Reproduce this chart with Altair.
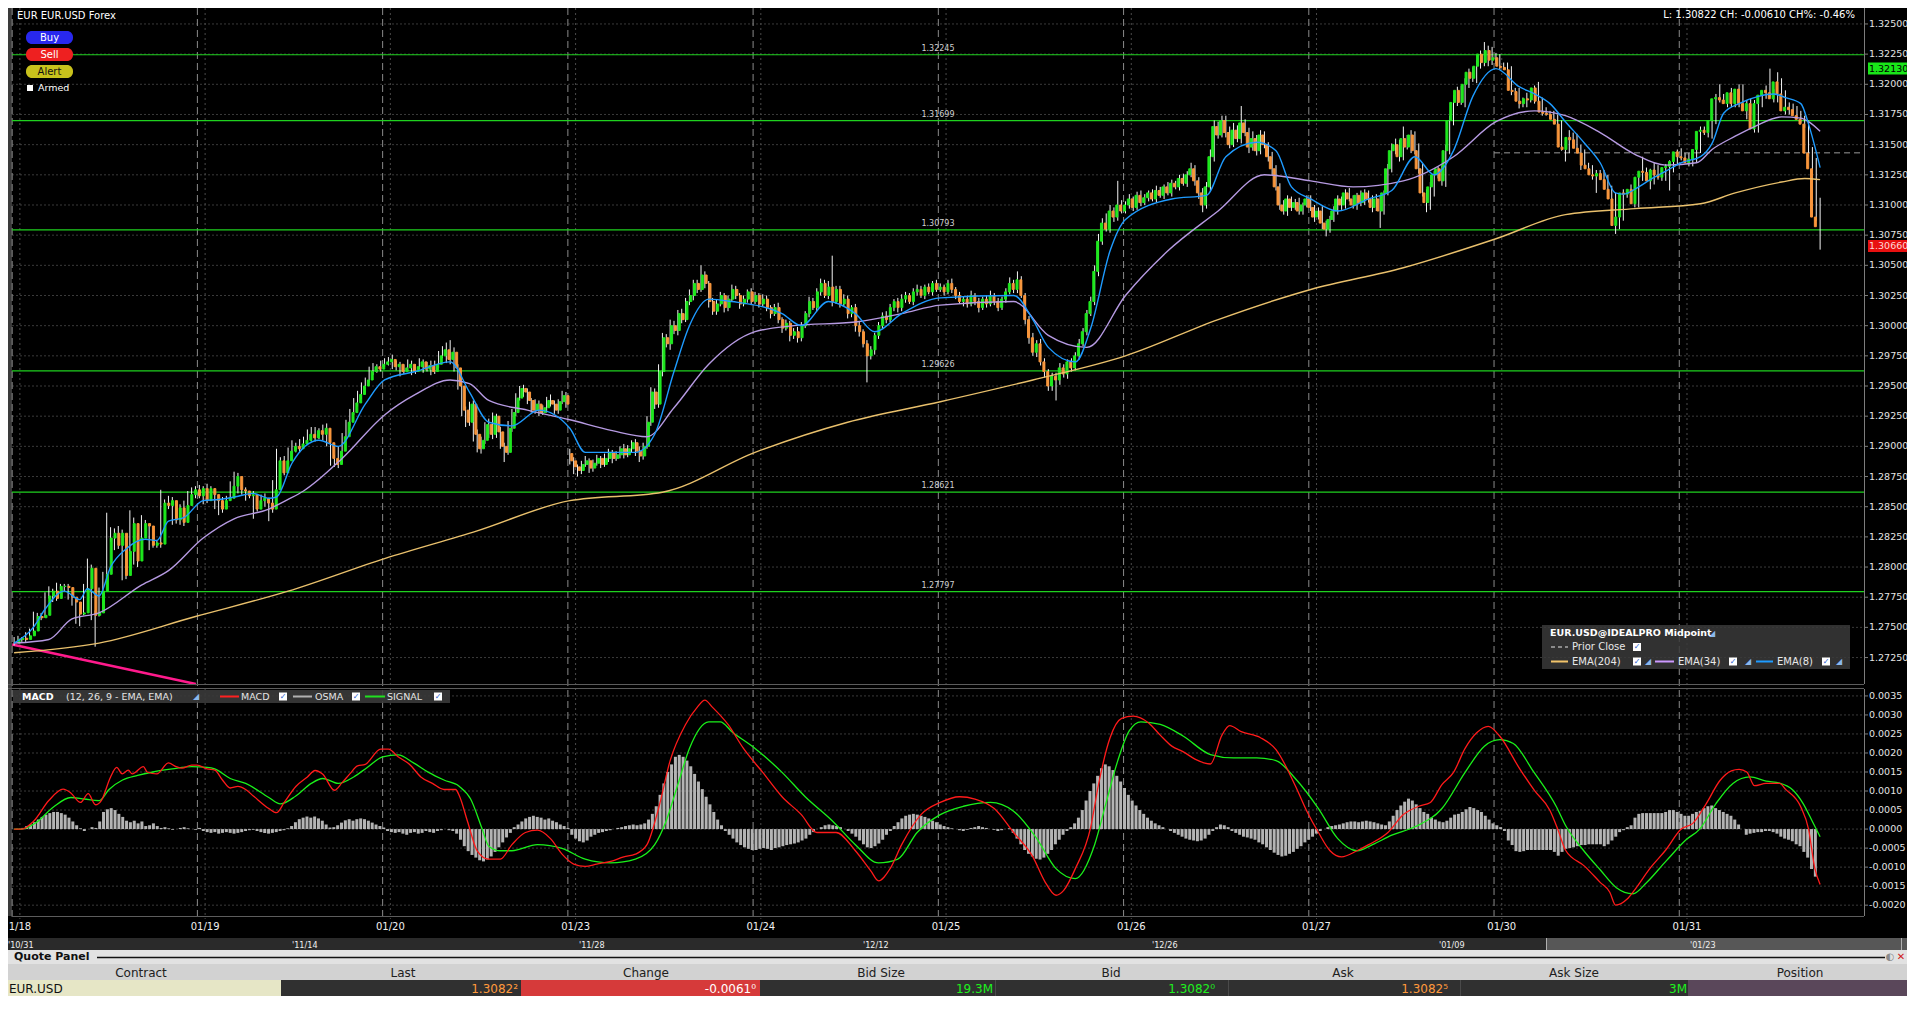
import altair as alt
import pandas as pd

FONT = "DejaVu Sans"

# ---------------------------------------------------------------- data
DAY_LABELS = ["1/18", "01/19", "01/20", "01/23", "01/24", "01/25", "01/26", "01/27", "01/30", "01/31"]
DAY_START_BAR = [0, 48, 96, 144, 192, 240, 288, 336, 384, 432]

BASE, PIP = 1.27, 0.0001          # closes / wicks are in pips above 1.2700
FIRST_OPEN = 37
GAP_OPEN = {144: 194}

CLOSES = [
    # 01/18
    40, 41, 40, 43, 47, 59, 58, 60, 76, 80, 74, 84, 84, 83, 75, 71, 61, 62, 82, 99, 60, 62, 80, 94,
    124, 128, 118, 128, 93, 113, 136, 105, 124, 136, 134, 118, 120, 119, 153, 151, 155, 139, 149, 137, 151, 160, 164, 159,
    # 01/19
    165, 155, 165, 160, 155, 148, 155, 157, 167, 175, 164, 163, 159, 160, 148, 155, 157, 153, 148, 164, 188, 178, 188, 196,
    200, 198, 202, 205, 210, 207, 213, 210, 215, 203, 190, 185, 196, 208, 220, 228, 236, 243, 250, 255, 262, 266, 264, 268,
    # 01/20
    270, 272, 266, 268, 262, 265, 268, 262, 266, 270, 264, 267, 262, 268, 275, 280, 272, 278, 265, 250, 230, 220, 235, 210,
    198, 205, 218, 210, 225, 212, 200, 195, 215, 228, 240, 248, 245, 238, 230, 235, 228, 232, 238, 235, 230, 237, 242, 235,
    # 01/23
    188, 183, 180, 185, 188, 182, 186, 190, 185, 190, 195, 190, 193, 198, 193, 198, 203, 196, 192, 200, 220, 245, 235, 262,
    290, 285, 300, 296, 310, 305, 320, 325, 335, 330, 342, 335, 320, 312, 318, 325, 315, 322, 330, 325, 318, 322, 328, 320,
    # 01/24
    325, 318, 322, 315, 310, 315, 305, 298, 302, 292, 295, 290, 300, 310, 320, 315, 328, 335, 325, 332, 320, 330, 318, 322,
    310, 315, 300, 295, 285, 275, 280, 292, 300, 308, 305, 315, 320, 315, 322, 325, 320, 328, 330, 325, 332, 328, 335, 330,
    # 01/25
    332, 328, 335, 330, 325, 320, 322, 318, 325, 320, 315, 322, 318, 325, 320, 315, 322, 328, 335, 330, 338, 325, 305, 290,
    278, 285, 270, 262, 250, 258, 255, 265, 260, 270, 265, 275, 285, 295, 310, 320, 345, 370, 385, 380, 395, 390, 400, 395,
    # 01/26
    400, 405, 398, 408, 402, 406, 410, 405, 412, 408, 415, 410, 418, 415, 422, 418, 425, 430, 420, 410, 400, 415, 440, 465,
    458, 470, 460, 450, 462, 455, 468, 460, 448, 455, 445, 458, 450, 440, 430, 415, 400, 395, 405, 398, 402, 395, 400, 405,
    # 01/27
    398, 390, 395, 385, 380, 388, 395, 405, 400, 410, 405, 400, 408, 402, 410, 405, 398, 405, 395, 410, 430, 445, 450, 440,
    455, 448, 458, 445, 430, 410, 402, 415, 425, 430, 420, 445, 470, 485, 495, 485, 500, 510, 505, 515, 525, 518, 528, 520,
    # 01/30
    522, 515, 514, 512, 495, 494, 486, 484, 488, 487, 497, 486, 477, 476, 475, 471, 467, 448, 446, 456, 454, 447, 443, 433,
    430, 425, 424, 426, 421, 413, 405, 383, 390, 410, 409, 413, 401, 423, 428, 427, 420, 429, 425, 423, 431, 432, 436, 444,
    # 01/31
    440, 439, 435, 438, 446, 461, 462, 460, 470, 488, 489, 487, 484, 493, 484, 496, 484, 478, 484, 463, 484, 491, 495, 493,
    488, 502, 492, 478, 481, 479, 474, 471, 467, 443, 430, 390, 382,
]

WICK_UP = [
    2, 2, 1, 3, 2, 4, 3, 2, 3, 4, 2, 3, 2, 2, 3, 2, 2, 3, 4, 8, 3, 2, 3, 2, 21, 5, 4, 6, 3, 4, 11, 5, 4, 7, 3, 2, 3, 2, 11, 3, 4, 3, 5, 3, 4, 3, 2, 3,
    3, 2, 4, 2, 3, 2, 3, 2, 4, 4, 3, 2, 3, 2, 3, 2, 3, 4, 2, 8, 10, 3, 4, 3, 5, 3, 4, 3, 4, 6, 3, 2, 3, 4, 3, 3, 4, 3, 2, 3, 4, 3, 3, 2, 4, 3, 2, 3,
    3, 2, 4, 3, 2, 3, 4, 3, 2, 3, 2, 3, 4, 3, 4, 3, 6, 10, 4, 3, 4, 3, 2, 3, 4, 3, 2, 5, 3, 2, 4, 3, 6, 3, 4, 2, 3, 3, 2, 4, 3, 2, 3, 5, 3, 2, 4, 3,
    4, 3, 2, 3, 4, 2, 3, 3, 2, 4, 3, 2, 3, 2, 4, 3, 2, 3, 4, 3, 5, 4, 3, 6, 4, 3, 5, 4, 3, 4, 3, 5, 3, 3, 8, 3, 2, 3, 4, 3, 2, 3, 4, 3, 2, 3, 2, 3,
    3, 2, 4, 3, 2, 3, 4, 2, 3, 2, 3, 4, 3, 2, 4, 3, 3, 4, 3, 5, 26, 3, 3, 4, 3, 2, 3, 4, 2, 3, 3, 2, 3, 3, 4, 3, 2, 3, 4, 3, 2, 3, 4, 3, 2, 3, 2, 3,
    3, 2, 3, 4, 2, 3, 2, 3, 4, 2, 3, 2, 3, 4, 2, 3, 2, 3, 5, 3, 7, 3, 2, 3, 4, 3, 4, 3, 2, 3, 3, 4, 3, 2, 3, 3, 4, 3, 3, 4, 5, 6, 4, 8, 5, 3, 20, 4,
    3, 4, 2, 3, 4, 3, 2, 3, 4, 3, 2, 4, 3, 2, 3, 4, 3, 5, 3, 3, 4, 4, 6, 5, 4, 4, 4, 5, 6, 4, 14, 3, 4, 6, 3, 4, 3, 2, 4, 3, 3, 4, 3, 2, 3, 4, 2, 3,
    3, 2, 3, 4, 2, 3, 4, 3, 2, 3, 4, 3, 2, 4, 3, 2, 3, 4, 3, 2, 4, 6, 5, 4, 10, 3, 4, 3, 6, 4, 3, 4, 3, 2, 3, 5, 4, 6, 3, 4, 5, 3, 4, 5, 3, 10, 4, 3,
    4, 3, 3, 4, 3, 2, 3, 3, 5, 3, 2, 5, 3, 4, 2, 3, 4, 3, 3, 6, 4, 5, 3, 3, 2, 3, 4, 3, 3, 4, 3, 5, 3, 3, 2, 4, 3, 4, 12, 3, 3, 6, 4, 3, 3, 5, 4, 2,
    3, 3, 4, 3, 3, 4, 3, 3, 3, 4, 11, 3, 3, 4, 3, 4, 4, 3, 4, 3, 5, 3, 4, 18, 3, 8, 3, 3, 4, 3, 3, 4, 3, 3, 5, 9, 16,
]

WICK_DN = [
    2, 1, 2, 2, 1, 2, 3, 2, 2, 2, 3, 2, 2, 3, 2, 3, 8, 10, 2, 3, 4, 26, 3, 2, 4, 3, 4, 3, 4, 3, 2, 3, 5, 3, 3, 4, 2, 3, 3, 2, 3, 4, 3, 2, 3, 2, 3, 2,
    2, 3, 2, 3, 7, 5, 3, 2, 2, 2, 3, 3, 4, 2, 8, 2, 3, 3, 10, 3, 3, 4, 2, 3, 2, 3, 3, 4, 2, 3, 3, 4, 5, 3, 6, 2, 3, 3, 2, 3, 2, 3, 4, 3, 2, 3, 3, 2,
    2, 3, 2, 3, 4, 2, 3, 3, 2, 2, 3, 2, 3, 2, 3, 2, 3, 4, 3, 3, 5, 4, 3, 6, 3, 4, 3, 3, 4, 5, 2, 8, 2, 3, 3, 2, 4, 3, 2, 3, 3, 2, 4, 2, 3, 3, 2, 3,
    3, 6, 5, 3, 2, 4, 3, 2, 3, 2, 3, 4, 2, 3, 3, 2, 3, 4, 5, 3, 2, 3, 4, 3, 4, 3, 5, 3, 4, 3, 2, 3, 4, 3, 2, 4, 5, 3, 3, 2, 4, 3, 2, 3, 4, 2, 3, 3,
    2, 3, 2, 3, 4, 2, 3, 4, 2, 5, 3, 4, 3, 2, 3, 2, 3, 3, 2, 3, 4, 2, 3, 2, 4, 3, 5, 4, 3, 22, 3, 4, 3, 2, 3, 2, 3, 4, 3, 3, 2, 3, 3, 2, 3, 2, 3, 2,
    2, 3, 2, 3, 3, 2, 4, 3, 2, 3, 4, 2, 3, 2, 3, 3, 2, 3, 2, 3, 3, 2, 4, 5, 3, 4, 3, 5, 4, 4, 17, 4, 3, 4, 3, 2, 3, 2, 3, 2, 3, 4, 3, 2, 3, 4, 3, 2,
    2, 3, 3, 2, 3, 2, 3, 2, 3, 2, 3, 2, 3, 2, 3, 2, 3, 2, 4, 5, 6, 3, 3, 4, 3, 2, 4, 3, 2, 3, 4, 3, 5, 3, 4, 3, 3, 4, 5, 3, 4, 3, 4, 3, 2, 3, 3, 2,
    3, 4, 2, 5, 6, 3, 2, 3, 4, 3, 2, 3, 4, 3, 2, 3, 4, 3, 14, 3, 2, 3, 3, 4, 3, 2, 5, 3, 4, 3, 8, 6, 8, 3, 4, 5, 3, 4, 3, 2, 4, 3, 3, 4, 2, 3, 3, 4,
    3, 3, 2, 3, 4, 3, 6, 3, 3, 2, 3, 3, 3, 2, 3, 4, 3, 3, 10, 3, 3, 3, 14, 3, 5, 4, 14, 3, 3, 8, 6, 7, 3, 3, 3, 3, 3, 3, 3, 4, 7, 3, 4, 3, 3, 19, 5, 3,
    3, 4, 3, 3, 3, 3, 3, 4, 5, 3, 3, 3, 3, 3, 3, 3, 3, 7, 3, 3, 3, 3, 3, 3, 3, 3, 3, 3, 3, 3, 3, 3, 3, 3, 5, 3, 19,
]

# moving averages: (bar, pips above 1.2700)
EMA204 = [(0, 29), (22, 37), (47, 59), (71, 80), (96, 107), (120, 130), (144, 155), (168, 162), (192, 195),
          (216, 220), (240, 237), (264, 255), (288, 275), (312, 305), (336, 330), (360, 348), (384, 372),
          (402, 392), (420, 397), (437, 401), (446, 410), (458, 419), (464, 422), (468, 421)]
EMA34 = [(0, 37), (9, 40), (15, 57), (22, 62), (33, 85), (40, 97), (49, 124), (57, 140), (66, 148), (71, 156),
         (75, 163), (85, 190), (96, 226), (104, 243), (113, 255), (118, 252), (123, 238), (133, 230), (144, 222),
         (155, 213), (164, 208), (171, 232), (180, 268), (192, 295), (202, 300), (218, 303), (230, 310), (240, 317),
         (259, 320), (268, 292), (278, 282), (288, 325), (299, 362), (312, 395), (324, 425), (336, 420), (347, 415),
         (360, 420), (373, 440), (384, 469), (394, 478), (402, 474), (411, 460), (420, 442), (428, 433), (436, 435),
         (440, 446), (446, 457), (451, 465), (458, 473), (463, 472), (465, 469), (468, 461)]
EMA8 = [(0, 37), (5, 50), (8, 65), (13, 80), (17, 73), (19, 82), (22, 76), (25, 100), (29, 115), (34, 123), (37, 122),
        (40, 138), (44, 141), (49, 155), (53, 156), (57, 158), (62, 161), (66, 157), (68, 158), (72, 186), (79, 205),
        (84, 200), (91, 235), (96, 255), (104, 262), (113, 270), (118, 245), (123, 220), (129, 217), (136, 230),
        (144, 215), (148, 195), (161, 195), (166, 210), (171, 262), (175, 300), (180, 322), (186, 320), (199, 310),
        (204, 300), (211, 320), (218, 310), (223, 295), (230, 310), (240, 323), (259, 325), (264, 305), (268, 282),
        (275, 270), (279, 298), (284, 362), (288, 388), (300, 405), (309, 408), (314, 440), (322, 452), (327, 445),
        (331, 415), (336, 405), (343, 395), (351, 405), (357, 412), (363, 440), (368, 425), (373, 445), (378, 490),
        (384, 513), (390, 498), (394, 492), (398, 484), (402, 469), (407, 451), (411, 435), (415, 410), (417, 409),
        (421, 415), (424, 421), (428, 428), (432, 435), (437, 440), (440, 451), (443, 476), (447, 484), (452, 490),
        (456, 492), (459, 489), (463, 484), (465, 467), (468, 431)]

# MACD panel: lines as (bar, value x 1e-4), OSMA histogram per bar in 1e-5
MACD_PTS = [(0, 0), (2, 0), (5, 2), (9, 7.5), (12.7, 10.5), (14.7, 9.5), (17.2, 7), (19.2, 9.3), (21.1, 6.4), (22.6, 7.5),
            (25, 13.7), (26.6, 16.2), (28, 14.5), (29.6, 15.5), (30.6, 14.5), (33.5, 16.4), (34.5, 15), (37, 14.5),
            (40, 17.4), (42, 16.4), (43.5, 16), (46, 16.8), (47.4, 16.8), (50, 15.8), (52, 15.5), (54, 12.9), (56, 10.8),
            (58, 11.2), (60, 10.4), (62, 8.7), (66, 5.4), (68, 4.3), (70, 7), (73, 11.2), (76, 13.7), (78, 15.4),
            (80, 14.4), (83, 10.2), (85, 12.2), (87, 14.5), (89, 16.6), (91, 17), (95, 21), (97, 21), (99.5, 19),
            (102.5, 17), (105.4, 13.7), (108.4, 12), (111.4, 10.4), (114.4, 10.4), (115.4, 8.7), (117.5, 2),
            (120, -5.7), (123, -7.9), (126, -7.9), (129, -4.1), (132.5, -0.9), (135.6, -0.3), (139, -2.5), (142, -6.6),
            (145, -9.2), (148, -9.8), (151, -9.2), (154.6, -8.5), (158, -7.3), (161, -6.6), (164, -4.1), (167, 5.4),
            (170, 18), (174, 27.5), (177, 32), (179, 33.9), (181, 32), (185, 27.5), (189, 21.2), (194, 14.9), (199, 8.5),
            (204, 3.8), (208, -0.9), (213, -0.9), (218, -5.7), (222, -11), (224, -13.6), (227, -10.4), (230, -4.1),
            (235, 3.8), (240, 7), (245, 8.5), (249, 7.9), (254, 5.4), (259, -0.9), (264, -7.3), (267, -13.6),
            (270, -17.4), (272, -16.1), (275, -10.4), (279, 0.6), (281, 11.7), (284, 24), (287, 29.1), (290, 29.7),
            (294, 27.9), (297, 24.7), (300, 21.8), (303, 20.3), (306, 18.4), (310, 17.1), (313, 24.7), (315, 27.2),
            (318, 25.6), (323, 24), (327, 20.9), (332, 11.4), (335, 4.7), (338, -0.9), (341, -5.7), (344, -7.3),
            (348, -5.7), (351, -4.1), (356, -0.9), (360, 3.8), (364, 6), (367, 7), (370, 11.7), (373, 14.9), (376, 21.2),
            (379, 25.3), (382, 27), (385, 24.4), (390, 16.1), (394, 10.1), (398, 4.9), (400, 0), (402, -5.5), (407, -9.8),
            (411, -14), (413.5, -16.6), (415, -20), (418, -18.4), (420, -15.9), (424, -10.2), (428, -5.5), (432, 0),
            (435, 1.5), (438.5, 6.7), (442, 12.7), (445, 15.3), (447, 15.7), (449, 15), (451, 11.4), (454, 12),
            (457.5, 12), (459, 10.5), (463, 5.8), (465, 0), (466.6, -10.2), (468, -14.6)]
SIGNAL_PTS = [(0, 0), (2, 0), (5.7, 1.7), (10.2, 5.8), (14.7, 8.3), (18.2, 7.9), (22.1, 7.5), (24.6, 10.4), (28.1, 12.9),
              (32, 14.1), (36, 15), (41, 15.8), (46, 16.4), (50, 16.2), (52, 15.8), (56, 13.3), (60, 12), (66, 8.3),
              (69, 6.6), (73, 8.7), (77, 12), (80, 13.3), (84, 12), (88, 13.7), (91.5, 16.2), (95.5, 19), (99.5, 19.5),
              (103.5, 17.4), (107.4, 14.9), (111.4, 12.9), (115.4, 11.2), (118.3, 7.9), (121.3, 0), (123, -4.5),
              (126, -5.7), (129, -5.7), (135.6, -4.1), (142, -5.1), (148, -7.9), (154.6, -8.9), (161, -7.9),
              (166, -4.1), (169, 2.2), (172, 11.7), (175, 21.2), (180, 28.2), (183, 28.2), (186, 25.6), (192, 21.2),
              (199, 14.9), (205, 8.5), (212, 2.2), (218, -4.1), (224, -8.9), (229, -7.9), (234, -0.9), (240, 3.8),
              (246, 6), (253, 7), (259, 4.7), (265, -2.5), (270, -10.4), (275, -13), (280, -4.1), (283, 7), (286, 18),
              (289, 25.9), (292, 28.2), (297, 27.5), (303, 24.4), (310, 19.6), (316, 18.7), (322, 18.7), (327, 18),
              (332, 13.3), (338, 5.4), (343, -2.5), (348, -5.7), (352, -4.1), (357, -1.6), (363, 0.6), (370, 5.4),
              (376, 14.9), (381, 21.8), (385, 23.5), (388.5, 22.5), (393.6, 15.3), (399.7, 5.8), (402, 1),
              (406.6, -5.5), (411, -10.7), (415.2, -15.4), (419.5, -17), (423, -14.1), (428, -8.5), (433.4, -2.7),
              (436.8, 0), (441, 6.7), (445.4, 12), (449.8, 13.7), (454, 12.6), (457.5, 12.1), (461, 10.2),
              (463.6, 6.7), (466, 2), (468, -2)]
OSMA = [
    0, 3, 8, 12, 18, 25, 32, 38, 42, 45, 45, 42, 38, 30, 20, 10, 2, -5, 0, 5, 3, 20, 45, 52, 55, 50, 40, 32, 22, 18, 22, 15, 20, 8, 10, 15, 8, 3, 5, 2, -2, 0, 3, 5, 2, 0, -2, 3,
    -5, -8, -10, -8, -12, -10, -8, -10, -12, -10, -8, -5, -3, -2, -5, -8, -10, -12, -10, -8, -5, -3, 2, 8, 18, 26, 30, 33, 30, 33, 28, 22, 12, 4, 5, 10, 17, 23, 26, 22, 26, 28, 26, 22, 17, 12, 8, 4,
    -5, -8, -10, -8, -12, -15, -10, -8, -12, -10, -5, -8, -10, -5, -3, 0, -3, -5, -12, -28, -45, -58, -68, -75, -82, -85, -80, -72, -60, -48, -35, -22, -10, 5, 12, 20, 28, 32, 35, 32, 30, 25, 28, 22, 18, 12, 8, 3,
    -15, -25, -32, -35, -30, -20, -15, -10, -8, -5, -3, 0, 3, 5, 8, 10, 12, 10, 12, 15, 25, 40, 60, 90, 120, 150, 170, 190, 195, 190, 180, 165, 145, 125, 105, 85, 65, 45, 25, 10, -5, -15, -25, -35, -42, -48, -52, -55,
    -55, -52, -50, -52, -55, -50, -48, -45, -42, -40, -38, -35, -30, -25, -15, -8, 0, 5, 10, 12, 10, 8, 5, 0, -5, -12, -20, -30, -40, -48, -50, -45, -38, -28, -15, -5, 8, 18, 28, 35, 38, 40, 38, 35, 32, 28, 22, 18,
    12, 8, 5, 2, 0, -3, -5, -2, 3, 5, 8, 5, 3, 0, -2, -5, -3, 0, 2, -10, -25, -40, -55, -65, -72, -78, -80, -75, -65, -55, -40, -28, -15, -5, 5, 15, 30, 50, 75, 100, 120, 140, 160, 170, 165, 155, 140, 125,
    108, 90, 75, 62, 50, 40, 30, 22, 15, 10, 5, 0, -5, -10, -15, -20, -25, -28, -30, -32, -30, -25, -15, -5, 5, 12, 10, 5, -5, -10, -15, -20, -22, -25, -28, -35, -40, -48, -55, -62, -68, -72, -70, -65, -60, -52, -45, -35,
    -28, -20, -12, -5, 0, 5, 8, 10, 12, 15, 18, 20, 20, 18, 20, 22, 20, 18, 15, 12, 10, 20, 35, 50, 62, 72, 80, 75, 65, 55, 45, 40, 30, 25, 20, 18, 22, 30, 38, 40, 45, 52, 58, 55, 50, 45, 35, 25,
    15, 10, 5, -5, -30, -42, -58, -60, -58, -55, -55, -55, -55, -55, -55, -55, -60, -70, -60, -52, -50, -48, -45, -42, -42, -40, -40, -40, -40, -45, -40, -30, -20, -8, -3, 5, 10, 30, 40, 42, 42, 42, 42, 42, 42, 45, 50, 50,
    45, 40, 35, 35, 40, 45, 48, 55, 60, 62, 55, 50, 45, 40, 35, 25, 12, 0, -15, -12, -10, -8, -8, -5, -5, -8, -12, -20, -25, -28, -32, -40, -45, -60, -75, -105, -125,
]

LEVELS = [1.32245, 1.31699, 1.30793, 1.29626, 1.28621, 1.27797]
PRIOR_CLOSE = 1.31432
TREND = [(-0.5, 1.27358), (47.1, 1.27031)]
PRICE_TICKS = [1.325, 1.3225, 1.32, 1.3175, 1.315, 1.3125, 1.31, 1.3075, 1.305, 1.3025, 1.3, 1.2975, 1.295,
               1.2925, 1.29, 1.2875, 1.285, 1.2825, 1.28, 1.2775, 1.275, 1.2725]
MACD_TICKS = [0.0035, 0.003, 0.0025, 0.002, 0.0015, 0.001, 0.0005, 0.0, -0.0005, -0.001, -0.0015, -0.002]
PRICE_BOXES = [(1.32130, "#19e619", "#000000"), (1.30660, "#e81010", "#ffd8d8")]

assert len(CLOSES) == len(WICK_UP) == len(WICK_DN) == len(OSMA) == 469, (
    len(CLOSES), len(WICK_UP), len(WICK_DN), len(OSMA))

# ---------------------------------------------------------------- layout
W, H = 1899, 988
XL, XR = 4, 1856
MAIN_T, MAIN_B = 0, 676
MACD_T, MACD_B = 681, 908

GREEN, ORANGE = "#1ee81e", "#f8963c"

XS = alt.Scale(domain=[-0.544, 479.37], range=[XL, XR], nice=False, zero=False)
PS = alt.Scale(domain=[1.270308, 1.326323], range=[MAIN_B, MAIN_T], nice=False, zero=False)
MS = alt.Scale(domain=[-0.002285, 0.003682], range=[MACD_B, MACD_T], nice=False, zero=False)


def PX(f):
    return alt.X(f"{f}:Q", scale=None, axis=None)


def PY(f):
    return alt.Y(f"{f}:Q", scale=None, axis=None)


def rects(rows, **kw):
    df = pd.DataFrame(rows, columns=["x", "x2", "y", "y2", "c"])
    return alt.Chart(df).mark_rect(**kw).encode(
        x=PX("x"), x2="x2:Q", y=PY("y"), y2="y2:Q",
        color=alt.Color("c:N", scale=None, legend=None))


def texts(rows, size=10, color="#ffffff", align="left", weight="normal", baseline="middle", font=FONT):
    df = pd.DataFrame(rows, columns=["x", "y", "t"])
    return alt.Chart(df).mark_text(size=size, color=color, align=align, fontWeight=weight,
                                   baseline=baseline, font=font).encode(
        x=PX("x"), y=PY("y"), text="t:N")


def segs(rows, color, width=1.0, dash=None):
    df = pd.DataFrame(rows, columns=["x", "x2", "y", "y2"])
    kw = dict(color=color, strokeWidth=width)
    if dash:
        kw["strokeDash"] = dash
    return alt.Chart(df).mark_rule(**kw).encode(x=PX("x"), x2="x2:Q", y=PY("y"), y2="y2:Q")


def checkbox(x, y):
    return [rects([(x, x + 8, y - 4, y + 4, "#ffffff")]),
            texts([(x + 4, y, "✓")], size=8, color="#1f5fd0", align="center", weight="bold")]


layers = []

# ---- panel backgrounds / frame
layers.append(rects([(0, XL, 0, MACD_B, "#3a3a3a")]))

# ---- horizontal grid
layers.append(alt.Chart(pd.DataFrame({"v": PRICE_TICKS})).mark_rule(
    color="#3a3a3a", strokeDash=[2, 2]).encode(
    y=alt.Y("v:Q", scale=PS, axis=None), x=alt.value(XL), x2=alt.value(XR)))
layers.append(alt.Chart(pd.DataFrame({"v": MACD_TICKS})).mark_rule(
    color="#3a3a3a", strokeDash=[2, 2]).encode(
    y=alt.Y("v:Q", scale=MS, axis=None), x=alt.value(XL), x2=alt.value(XR)))

# ---- vertical day lines
days = pd.DataFrame({"start": DAY_START_BAR, "lab": DAY_LABELS})
days["b"] = days["start"] - 0.5
days["m"] = days["start"] + 1.5
layers.append(alt.Chart(days).mark_rule(color="#8a8a8a", strokeDash=[7, 4]).encode(
    x=alt.X("b:Q", scale=XS, axis=None), y=alt.value(0), y2=alt.value(MACD_B + 3)))
layers.append(alt.Chart(days).mark_rule(color="#4a4a4a", strokeDash=[2, 3]).encode(
    x=alt.X("m:Q", scale=XS, axis=None), y=alt.value(0), y2=alt.value(MACD_B + 3)))

# ---- support / resistance levels
lev = pd.DataFrame({"v": LEVELS})
lev["lab"] = [f"{v:.5f}" for v in LEVELS]
layers.append(alt.Chart(lev).mark_rule(color="#1fd11f", strokeWidth=1.2).encode(
    y=alt.Y("v:Q", scale=PS, axis=None), x=alt.value(XL), x2=alt.value(XR)))
layers.append(alt.Chart(lev).mark_text(size=8, color="#d0d0d0", dy=-6, font=FONT).encode(
    y=alt.Y("v:Q", scale=PS, axis=None), x=alt.value((XL + XR) / 2), text="lab:N"))

# ---- prior close
pc = pd.DataFrame({"a": [DAY_START_BAR[-2] - 0.5], "b": [479.37], "v": [PRIOR_CLOSE]})
layers.append(alt.Chart(pc).mark_rule(color="#9a9a9a", strokeDash=[6, 4]).encode(
    x=alt.X("a:Q", scale=XS, axis=None), x2="b:Q", y=alt.Y("v:Q", scale=PS, axis=None)))

# ---- trend line
layers.append(alt.Chart(pd.DataFrame(TREND, columns=["i", "p"])).mark_line(
    color="#ff1a8c", strokeWidth=2.5).encode(
    x=alt.X("i:Q", scale=XS, axis=None), y=alt.Y("p:Q", scale=PS, axis=None)))

# ---- candles
rows = []
prev = FIRST_OPEN
for i, (c, u, d) in enumerate(zip(CLOSES, WICK_UP, WICK_DN)):
    o = GAP_OPEN.get(i, prev)
    rows.append(dict(i=i, open=BASE + o * PIP, close=BASE + c * PIP,
                     high=BASE + (max(o, c) + u) * PIP, low=BASE + (min(o, c) - d) * PIP,
                     col=GREEN if c >= o else ORANGE))
    prev = c
cdf = pd.DataFrame(rows)
layers.append(alt.Chart(cdf).mark_rule(color="#f4f4f4", strokeWidth=1).encode(
    x=alt.X("i:Q", scale=XS, axis=None), y=alt.Y("low:Q", scale=PS, axis=None), y2="high:Q"))
layers.append(alt.Chart(cdf).mark_bar(width=2, strokeWidth=1).encode(
    x=alt.X("i:Q", scale=XS, axis=None), y=alt.Y("open:Q", scale=PS, axis=None), y2="close:Q",
    color=alt.Color("col:N", scale=None, legend=None),
    stroke=alt.Stroke("col:N", scale=None, legend=None)))


def ema_layer(pts, color, w=1.4):
    df = pd.DataFrame(pts, columns=["i", "p"])
    df["price"] = BASE + df["p"] * PIP
    return alt.Chart(df).mark_line(color=color, strokeWidth=w, interpolate="monotone").encode(
        x=alt.X("i:Q", scale=XS, axis=None), y=alt.Y("price:Q", scale=PS, axis=None))


layers.append(ema_layer(EMA204, "#e9c06c"))
layers.append(ema_layer(EMA34, "#b69ae2"))
layers.append(ema_layer(EMA8, "#1e9bff"))

# ---- MACD panel
odf = pd.DataFrame({"i": range(len(OSMA)), "v": [v * 1e-5 for v in OSMA]})
odf["z"] = 0.0
layers.append(alt.Chart(odf).mark_bar(width=3, color="#b4b4b4").encode(
    x=alt.X("i:Q", scale=XS, axis=None), y=alt.Y("v:Q", scale=MS, axis=None), y2="z:Q"))


def macd_layer(pts, color):
    df = pd.DataFrame(pts, columns=["i", "e"])
    df["v"] = df["e"] * 1e-4
    return alt.Chart(df).mark_line(color=color, strokeWidth=1.3, interpolate="monotone").encode(
        x=alt.X("i:Q", scale=XS, axis=None), y=alt.Y("v:Q", scale=MS, axis=None))


layers.append(macd_layer(SIGNAL_PTS, "#1af01a"))
layers.append(macd_layer(MACD_PTS, "#ff1a1a"))

# ---- frames and right axes
layers.append(segs([(0, XR, MAIN_B + 0.5, MAIN_B + 0.5), (0, XR, MACD_T - 0.5, MACD_T - 0.5),
                    (XL, XR, MACD_B + 0.5, MACD_B + 0.5)], "#5c5c5c"))
layers.append(segs([(XR + 0.5, XR + 0.5, 0, MAIN_B), (XR + 0.5, XR + 0.5, MACD_T, MACD_B)], "#7c7c7c"))
ptk = pd.DataFrame({"v": PRICE_TICKS})
ptk["lab"] = [f"{v:.5f}" for v in PRICE_TICKS]
layers.append(alt.Chart(ptk).mark_rule(color="#7c7c7c").encode(
    y=alt.Y("v:Q", scale=PS, axis=None), x=alt.value(XR), x2=alt.value(XR + 4)))
layers.append(alt.Chart(ptk).mark_text(size=9.5, color="#e4e4e4", align="left", font=FONT).encode(
    y=alt.Y("v:Q", scale=PS, axis=None), x=alt.value(1861), text="lab:N"))
mtk = pd.DataFrame({"v": MACD_TICKS})
mtk["lab"] = [f"{v:.4f}" for v in MACD_TICKS]
layers.append(alt.Chart(mtk).mark_rule(color="#7c7c7c").encode(
    y=alt.Y("v:Q", scale=MS, axis=None), x=alt.value(XR), x2=alt.value(XR + 4)))
layers.append(alt.Chart(mtk).mark_text(size=9.5, color="#e4e4e4", align="left", font=FONT).encode(
    y=alt.Y("v:Q", scale=MS, axis=None), x=alt.value(1861), text="lab:N"))
for v, bg, fg in PRICE_BOXES:
    bdf = pd.DataFrame({"v": [v], "lab": [f"{v:.5f}"]})
    layers.append(alt.Chart(bdf).mark_tick(orient="horizontal", size=40, thickness=12, color=bg, opacity=1).encode(
        y=alt.Y("v:Q", scale=PS, axis=None), x=alt.value(1880)))
    layers.append(alt.Chart(bdf).mark_text(size=9.5, color=fg, align="left", font=FONT).encode(
        y=alt.Y("v:Q", scale=PS, axis=None), x=alt.value(1861), text="lab:N"))

# ---- top-left header and order buttons
layers.append(texts([(9, 8, "EUR EUR.USD Forex")], size=10))
layers.append(rects([(18, 65, 23, 36, "#2828ee")], cornerRadius=6))
layers.append(rects([(18, 65, 40, 53, "#ee2020")], cornerRadius=6))
layers.append(rects([(18, 65, 57, 70, "#c9c21c")], cornerRadius=6))
layers.append(texts([(41.5, 29.5, "Buy"), (41.5, 46.5, "Sell")], size=10, align="center"))
layers.append(texts([(41.5, 63.5, "Alert")], size=10, align="center", color="#111111"))
layers.append(rects([(19, 25, 77, 83, "#ffffff")]))
layers.append(texts([(30, 80, "Armed")], size=9.5))
layers.append(texts([(1847, 7, "L: 1.30822 CH: -0.00610 CH%: -0.46%")], size=10, align="right"))

# ---- price legend box
layers.append(rects([(1534, 1842, 617, 661, "#3a3a3a")], opacity=0.85))
layers.append(texts([(1542, 625, "EUR.USD@IDEALPRO Midpoint")], size=9.5, weight="bold"))
layers.append(texts([(1704, 625.5, "◢"), (1640, 653.5, "◢"), (1740, 653.5, "◢"), (1831, 653.5, "◢")],
                    size=8, color="#8ab8ee", align="center"))
layers.append(segs([(1543, 1560, 639, 639)], "#8a8a8a", width=2, dash=[4, 3]))
layers.append(segs([(1543, 1560, 653.5, 653.5)], "#f2c46a", width=2))
layers.append(segs([(1647, 1666, 653.5, 653.5)], "#cc99ff", width=2))
layers.append(segs([(1748, 1765, 653.5, 653.5)], "#1e9bff", width=2))
layers.append(texts([(1564, 639, "Prior Close"), (1564, 653.5, "EMA(204)"), (1670, 653.5, "EMA(34)"),
                     (1769, 653.5, "EMA(8)")], size=10, color="#e8e8e8"))
for cx, cy in [(1625, 639), (1625, 653.5), (1721, 653.5), (1814, 653.5)]:
    layers.extend(checkbox(cx, cy))

# ---- MACD header
layers.append(rects([(5, 442, 682, 695, "#3a3a3a")], opacity=0.9))
layers.append(texts([(14, 688.5, "MACD")], size=9.5, weight="bold"))
layers.append(texts([(58, 688.5, "(12, 26, 9 - EMA, EMA)"), (233, 688.5, "MACD"), (307, 688.5, "OSMA"),
                     (379, 688.5, "SIGNAL")], size=9.5, color="#e4e4e4"))
layers.append(texts([(188, 689, "◢")], size=8, color="#8ab8ee", align="center"))
layers.append(segs([(212, 231, 688.5, 688.5)], "#ff2020", width=2))
layers.append(segs([(285, 304, 688.5, 688.5)], "#b0b0b0", width=2))
layers.append(segs([(357, 377, 688.5, 688.5)], "#20e020", width=2))
for cx in [271, 344, 426]:
    layers.extend(checkbox(cx, 688.5))

# ---- date labels
layers.append(alt.Chart(days).mark_text(size=10, color="#f0f0f0", align="center", font=FONT).encode(
    x=alt.X("m:Q", scale=XS, axis=None), y=alt.value(919), text="lab:N"))

# ---- scroll strip
layers.append(rects([(0, 1538, 930, 942, "#2a2a2a"), (1538, W, 930, 942, "#575757")]))
layers.append(segs([(1538.5, 1538.5, 930, 942), (1893.5, 1893.5, 930, 942)], "#b0b0b0"))
layers.append(texts([(0, 936.5, "'10/31"), (284, 936.5, "'11/14"), (571, 936.5, "'11/28"), (855, 936.5, "'12/12"),
                     (1144, 936.5, "'12/26"), (1431, 936.5, "'01/09"), (1682, 936.5, "'01/23")],
                    size=9, color="#f0f0f0", font="DejaVu Sans Condensed, DejaVu Sans"))

# ---- quote panel
layers.append(rects([(0, W, 942, 956, "#e2e2e2"), (0, W, 956, 972, "#d2d2d2")]))
layers.append(texts([(6, 949, "Quote Panel")], size=11, weight="bold", color="#101010"))
layers.append(segs([(89, 1877, 949.5, 949.5)], "#111111", width=1.5))
layers.append(texts([(1882, 949, "◐")], size=10, color="#8a8a8a", align="center"))
layers.append(texts([(1893, 949, "✕")], size=10, color="#d01818", align="center", weight="bold"))
layers.append(texts([(133, 964.5, "Contract"), (395, 964.5, "Last"), (638, 964.5, "Change"), (873, 964.5, "Bid Size"),
                     (1103, 964.5, "Bid"), (1335, 964.5, "Ask"), (1566, 964.5, "Ask Size"), (1792, 964.5, "Position")],
                    size=12, color="#202020", align="center"))
layers.append(rects([(0, 273, 972, 988, "#e6e6c6"), (273, 513, 972, 988, "#303030"), (513, 752, 972, 988, "#d63a3a"),
                     (752, 1680, 972, 988, "#303030"), (1680, W, 972, 988, "#5a475a")]))
layers.append(segs([(987.5, 987.5, 972, 988), (1220.5, 1220.5, 972, 988), (1452.5, 1452.5, 972, 988)], "#4a4a4a"))
layers.append(texts([(1, 980.5, "EUR.USD")], size=12, color="#101010"))
layers.append(texts([(510, 980.5, "1.3082²"), (1440, 980.5, "1.3082⁵")], size=12, color="#ff9a3c", align="right"))
layers.append(texts([(748, 980.5, "-0.0061⁰")], size=12, color="#ffffff", align="right"))
layers.append(texts([(985, 980.5, "19.3M"), (1207, 980.5, "1.3082⁰"), (1679, 980.5, "3M")], size=12,
                    color="#1ef01e", align="right"))

chart = alt.layer(*layers).resolve_scale(
    x="independent", y="independent", color="independent", stroke="independent"
).properties(
    width=W, height=H, background="#000000", padding=0,
    autosize=alt.AutoSizeParams(type="none"),
).configure_view(strokeWidth=0)

chart.save("out.html", embed_options={"renderer": "svg", "actions": False})
